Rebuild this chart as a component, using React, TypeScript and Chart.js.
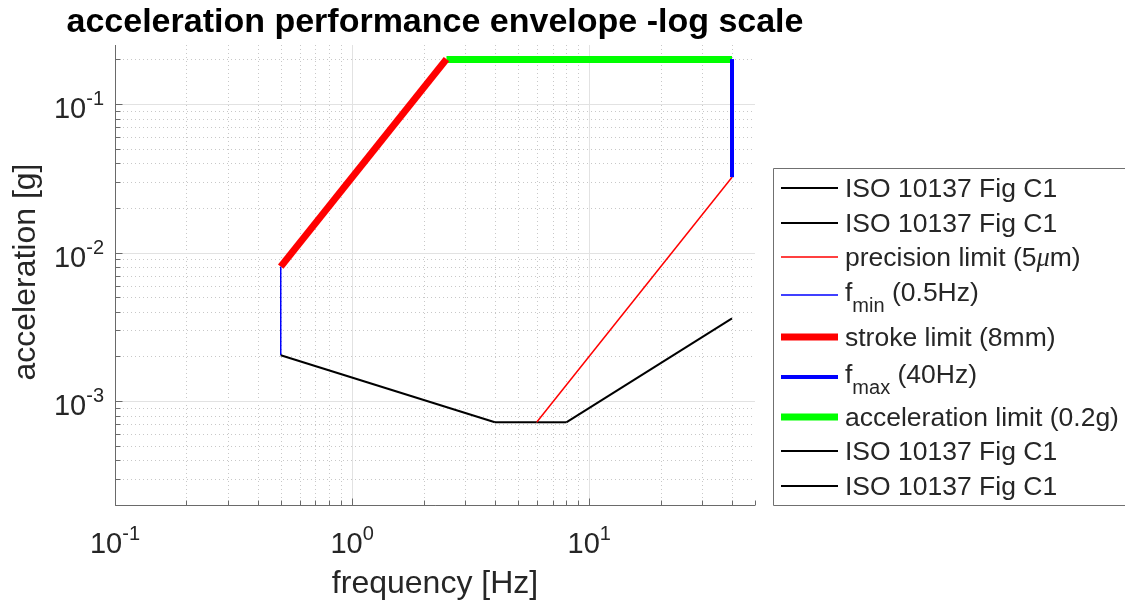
import React, { useEffect, useRef } from "react";
import { Chart, registerables } from "chart.js";

Chart.register(...registerables);

// ---------------- data ----------------
const titleText = "acceleration performance envelope -log scale";
const xLabelText = "frequency [Hz]";
const yLabelText = "acceleration [g]";

const xRange = [0.1, 50];
const yRange = [0.0002, 0.25];

const xTickValues = [0.1, 1, 10];
const xTickExponents = ["-1", "0", "1"];
const yTickValues = [0.001, 0.01, 0.1];
const yTickExponents = ["-3", "-2", "-1"];

// ISO 10137 Fig C1 base curve (split into pieces)
const isoLowFreq = [0.5, 4];
const isoLowAcc = [0.00204, 0.000721];
const isoFlatFreq = [4, 6];
const isoFlatAcc = [0.000721, 0.000721];
const isoMidFreq = [6, 8];
const isoMidAcc = [0.000721, 0.000721];
const isoHighFreq = [8, 40];
const isoHighAcc = [0.000721, 0.00361];
// precision limit (5 um)
const precisionFreq = [6, 40];
const precisionAcc = [0.000721, 0.0322];
// f_min (0.5 Hz)
const fminFreq = [0.5, 0.5];
const fminAcc = [0.00204, 0.00805];
// stroke limit (8 mm)
const strokeFreq = [0.5, 2.5];
const strokeAcc = [0.00805, 0.201];
// f_max (40 Hz)
const fmaxFreq = [40, 40];
const fmaxAcc = [0.0322, 0.201];
// acceleration limit (0.2 g)
const accelFreq = [2.5, 40];
const accelAcc = [0.2, 0.2];

const seriesLabels = [
  "ISO 10137 Fig C1",
  "ISO 10137 Fig C1",
  "precision limit (5\\mum)",
  "f_{min} (0.5Hz)",
  "stroke limit (8mm)",
  "f_{max} (40Hz)",
  "acceleration limit (0.2g)",
  "ISO 10137 Fig C1",
  "ISO 10137 Fig C1",
];
const seriesFreqs = [isoLowFreq, isoFlatFreq, precisionFreq, fminFreq, strokeFreq, fmaxFreq, accelFreq, isoMidFreq, isoHighFreq];
const seriesAccs = [isoLowAcc, isoFlatAcc, precisionAcc, fminAcc, strokeAcc, fmaxAcc, accelAcc, isoMidAcc, isoHighAcc];

// ---------------- styles ----------------
const seriesColors = ["#000000", "#000000", "#ff0000", "#0000ff", "#ff0000", "#0000ff", "#00ff00", "#000000", "#000000"];
const seriesWidths = [2, 2, 1.5, 1.5, 7, 4, 7, 2, 2];

const FONT = '"Liberation Sans", Arial, Helvetica, sans-serif';
const TEXT_COLOR = "#262626";
const TICK_PX = 29;
const EXP_PX = 20;
const LABEL_PX = 32;
const TITLE_PX = 34;
const LEGEND_PX = 26.5;
const SUB_PX = 20;

const legendBox = { left: 773, top: 168, bottom: 505 };
const legendSampleY = [188, 223, 257, 295, 337, 377, 417, 451, 486];
const legendLineX = [781, 838];
const legendTextX = 845;

type Seg = { t: string; k: "n" | "sub" | "it" };
function parseTex(s: string): Seg[] {
  const segs: Seg[] = [];
  let buf = "";
  let i = 0;
  const flush = () => {
    if (buf) segs.push({ t: buf, k: "n" });
    buf = "";
  };
  while (i < s.length) {
    if (s[i] === "_" && s[i + 1] === "{") {
      flush();
      const end = s.indexOf("}", i);
      segs.push({ t: s.slice(i + 2, end), k: "sub" });
      i = end + 1;
    } else if (s.startsWith("\\mu", i)) {
      flush();
      segs.push({ t: "\u03bc", k: "it" });
      i += 3;
    } else {
      buf += s[i];
      i++;
    }
  }
  flush();
  return segs;
}

function drawPower(ctx: CanvasRenderingContext2D, base: string, exp: string, x: number, baseline: number, align: "center" | "right") {
  ctx.font = `${TICK_PX}px ${FONT}`;
  const wb = ctx.measureText(base).width;
  ctx.font = `${EXP_PX}px ${FONT}`;
  const we = ctx.measureText(exp).width;
  const total = wb + we;
  const left = align === "center" ? x - total / 2 : x - total;
  ctx.textAlign = "left";
  ctx.textBaseline = "alphabetic";
  ctx.font = `${TICK_PX}px ${FONT}`;
  ctx.fillText(base, left, baseline);
  ctx.font = `${EXP_PX}px ${FONT}`;
  ctx.fillText(exp, left + wb, baseline - 13);
}

function logValues(min: number, max: number, multipliers: number[]) {
  const out: number[] = [];
  const d0 = Math.floor(Math.log10(min)) - 1;
  const d1 = Math.ceil(Math.log10(max)) + 1;
  for (let d = d0; d <= d1; d++) {
    for (const m of multipliers) {
      const v = m * Math.pow(10, d);
      if (v >= min * 0.9999 && v <= max * 1.0001) out.push(v);
    }
  }
  return out;
}

const envelopePlugin = {
  id: "envelope",
  beforeDatasetsDraw(chart: any) {
    const { ctx, chartArea: a, scales } = chart;
    const xs = scales.x;
    const ys = scales.y;
    ctx.save();
    ctx.lineWidth = 1;
    // minor grid (dotted)
    ctx.strokeStyle = "#c8c8c8";
    ctx.setLineDash([1, 3]);
    for (const v of logValues(xRange[0], xRange[1], [2, 3, 4, 5, 6, 7, 8, 9])) {
      const px = Math.round(xs.getPixelForValue(v)) + 0.5;
      if (px > a.right) continue;
      ctx.beginPath();
      ctx.moveTo(px, a.top);
      ctx.lineTo(px, a.bottom);
      ctx.stroke();
    }
    for (const v of logValues(yRange[0], yRange[1], [2, 3, 4, 5, 6, 7, 8, 9])) {
      const py = Math.round(ys.getPixelForValue(v)) + 0.5;
      ctx.beginPath();
      ctx.moveTo(a.left, py);
      ctx.lineTo(a.right, py);
      ctx.stroke();
    }
    // major grid (solid)
    ctx.setLineDash([]);
    ctx.strokeStyle = "#e2e2e2";
    for (const v of xTickValues) {
      const px = Math.round(xs.getPixelForValue(v)) + 0.5;
      ctx.beginPath();
      ctx.moveTo(px, a.top);
      ctx.lineTo(px, a.bottom);
      ctx.stroke();
    }
    for (const v of yTickValues) {
      const py = Math.round(ys.getPixelForValue(v)) + 0.5;
      ctx.beginPath();
      ctx.moveTo(a.left, py);
      ctx.lineTo(a.right, py);
      ctx.stroke();
    }
    // axis lines
    ctx.strokeStyle = "#6a6a6a";
    const ax = Math.round(a.left) + 0.5;
    const ay = Math.round(a.bottom) + 0.5;
    ctx.beginPath();
    ctx.moveTo(ax, a.top);
    ctx.lineTo(ax, ay);
    ctx.lineTo(a.right, ay);
    ctx.stroke();
    // tick marks (inward)
    const allX = logValues(xRange[0], xRange[1], [1, 2, 3, 4, 5, 6, 7, 8, 9]);
    for (const v of allX) {
      const px = Math.round(xs.getPixelForValue(v)) + 0.5;
      const len = xTickValues.some((t) => Math.abs(t - v) / t < 1e-6) ? 7 : 5;
      ctx.beginPath();
      ctx.moveTo(px, ay);
      ctx.lineTo(px, ay - len);
      ctx.stroke();
    }
    const allY = logValues(yRange[0], yRange[1], [1, 2, 3, 4, 5, 6, 7, 8, 9]);
    for (const v of allY) {
      const py = Math.round(ys.getPixelForValue(v)) + 0.5;
      const len = yTickValues.some((t) => Math.abs(t - v) / t < 1e-6) ? 7 : 5;
      ctx.beginPath();
      ctx.moveTo(ax, py);
      ctx.lineTo(ax + len, py);
      ctx.stroke();
    }
    ctx.restore();
  },
  afterDraw(chart: any) {
    const { ctx, chartArea: a, scales } = chart;
    const xs = scales.x;
    const ys = scales.y;
    ctx.save();
    ctx.fillStyle = TEXT_COLOR;
    // tick labels
    xTickValues.forEach((v, i) => {
      drawPower(ctx, "10", xTickExponents[i], xs.getPixelForValue(v), a.bottom + 48, "center");
    });
    yTickValues.forEach((v, i) => {
      drawPower(ctx, "10", yTickExponents[i], a.left - 11, ys.getPixelForValue(v) + 14, "right");
    });
    // axis titles
    ctx.font = `${LABEL_PX}px ${FONT}`;
    ctx.textAlign = "center";
    ctx.textBaseline = "alphabetic";
    ctx.fillText(xLabelText, (a.left + a.right) / 2, 593);
    ctx.save();
    ctx.translate(35, (a.top + a.bottom) / 2 - 3);
    ctx.rotate(-Math.PI / 2);
    ctx.fillText(yLabelText, 0, 0);
    ctx.restore();
    // title
    ctx.fillStyle = "#000000";
    ctx.font = `bold ${TITLE_PX}px ${FONT}`;
    ctx.fillText(titleText, (a.left + a.right) / 2, 32);

    // legend (box runs off the right edge of the figure)
    const w = chart.width;
    const boxH = legendBox.bottom - legendBox.top;
    ctx.fillStyle = "#ffffff";
    ctx.fillRect(legendBox.left, legendBox.top, w - legendBox.left + 50, boxH);
    ctx.strokeStyle = "#707070";
    ctx.lineWidth = 1;
    const lx = legendBox.left + 0.5;
    const ty = legendBox.top + 0.5;
    const by = legendBox.bottom + 0.5;
    ctx.beginPath();
    ctx.moveTo(w + 20, ty);
    ctx.lineTo(lx, ty);
    ctx.lineTo(lx, by);
    ctx.lineTo(w + 20, by);
    ctx.stroke();
    seriesLabels.forEach((label, i) => {
      const sy = legendSampleY[i];
      ctx.strokeStyle = seriesColors[i];
      ctx.lineWidth = seriesWidths[i];
      ctx.beginPath();
      ctx.moveTo(legendLineX[0], sy);
      ctx.lineTo(legendLineX[1], sy);
      ctx.stroke();
      const segs = parseTex(label);
      const hasSub = segs.some((s) => s.k === "sub");
      const base = hasSub ? sy + 6 : sy + 9;
      let x = legendTextX;
      ctx.fillStyle = TEXT_COLOR;
      ctx.textAlign = "left";
      for (const s of segs) {
        let yb = base;
        if (s.k === "sub") {
          ctx.font = `${SUB_PX}px ${FONT}`;
          yb = base + 11;
        } else if (s.k === "it") {
          ctx.font = `italic ${LEGEND_PX}px "Liberation Serif", "DejaVu Serif", serif`;
        } else {
          ctx.font = `${LEGEND_PX}px ${FONT}`;
        }
        ctx.fillText(s.t, x, yb);
        x += ctx.measureText(s.t).width;
      }
    });
    ctx.restore();
  },
};

export default function App() {
  const canvasRef = useRef<HTMLCanvasElement | null>(null);

  useEffect(() => {
    document.body.style.margin = "0";
    document.body.style.overflow = "hidden";
    const canvas = canvasRef.current;
    if (!canvas) return;
    const datasets = seriesLabels.map((label, i) => ({
      label,
      data: seriesFreqs[i].map((f, j) => ({ x: f, y: seriesAccs[i][j] })),
      borderColor: seriesColors[i],
      backgroundColor: seriesColors[i],
      borderWidth: seriesWidths[i],
      pointRadius: 0,
      pointHoverRadius: 0,
      fill: false,
      tension: 0,
      borderCapStyle: "butt" as const,
    }));
    const chart = new Chart(canvas, {
      type: "line",
      data: { datasets },
      options: {
        responsive: true,
        maintainAspectRatio: false,
        animation: false,
        layout: { padding: { left: 115, top: 45, right: 370, bottom: 102 } },
        plugins: {
          legend: { display: false },
          title: { display: false },
          tooltip: { enabled: false },
        },
        scales: {
          x: {
            type: "logarithmic",
            min: xRange[0],
            max: xRange[1],
            grid: { display: false },
            border: { display: false },
            ticks: { display: false },
            afterFit: (s: any) => {
              s.height = 0;
            },
          },
          y: {
            type: "logarithmic",
            min: yRange[0],
            max: yRange[1],
            grid: { display: false },
            border: { display: false },
            ticks: { display: false },
            afterFit: (s: any) => {
              s.width = 0;
            },
          },
        },
      } as any,
      plugins: [envelopePlugin],
    });
    return () => chart.destroy();
  }, []);

  return (
    <div style={{ position: "relative", width: 1125, height: 607, background: "#ffffff", overflow: "hidden" }}>
      <canvas ref={canvasRef} style={{ display: "block" }} />
    </div>
  );
}
